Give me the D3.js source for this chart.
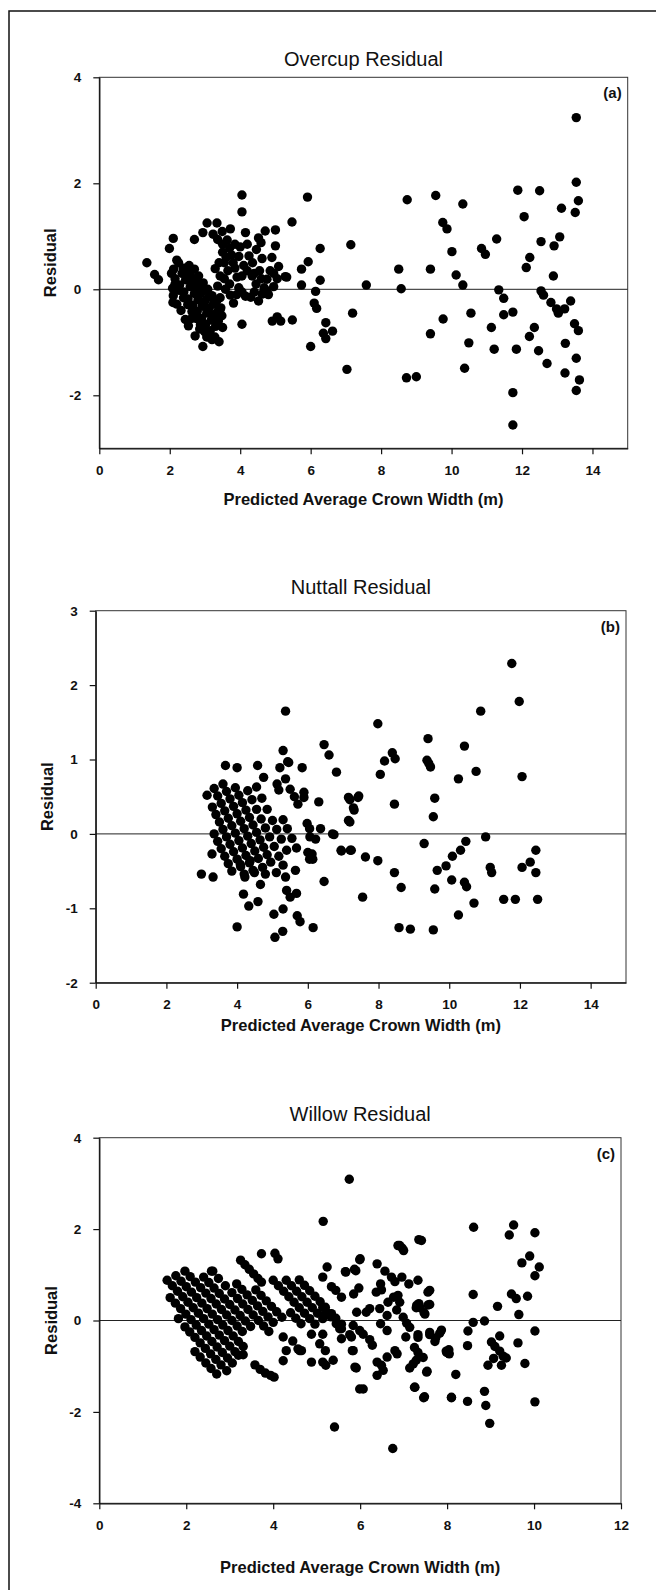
<!DOCTYPE html>
<html>
<head>
<meta charset="utf-8">
<script src="https://cdn.jsdelivr.net/npm/d3@7"></script>
<style>
  html, body { margin: 0; padding: 0; background: #fff; }
  svg { display: block; font-family: "Liberation Sans", Arial, sans-serif; }
</style>
</head>
<body>
<div id="chart"></div>
<script>
// ---- data ----
const titles = ['Overcup Residual', 'Nuttall Residual', 'Willow Residual'];
const tags = ['(a)', '(b)', '(c)'];
const xLabel = 'Predicted Average Crown Width (m)';
const yLabel = 'Residual';

const overcupXTicks = [0, 2, 4, 6, 8, 10, 12, 14];
const overcupYTicks = [-2, 0, 2, 4];
const nuttallXTicks = [0, 2, 4, 6, 8, 10, 12, 14];
const nuttallYTicks = [-2, -1, 0, 1, 2, 3];
const willowXTicks = [0, 2, 4, 6, 8, 10, 12];
const willowYTicks = [-4, -2, 0, 2, 4];

// [predicted width, residual]
const overcupPoints = [
  [1.35,0.50],[1.57,0.28],[1.68,0.18],[1.99,0.77],[2.10,0.96],[2.20,0.55],[2.11,0.38],
  [2.05,0.30],[2.15,0.20],[2.28,0.08],[2.40,-0.05],[2.52,-0.18],[2.65,-0.30],[2.78,-0.42],[2.90,-0.55],[3.02,-0.66],[3.15,-0.78],[3.28,-0.90],[3.40,-0.99],
  [2.08,0.02],[2.10,-0.12],[2.09,-0.25],[2.20,-0.28],[2.32,-0.40],[2.44,-0.57],[2.53,-0.69],[2.62,-0.55],[2.72,-0.88],[2.94,-1.08],[2.85,-0.75],
  [2.25,0.50],[2.38,0.40],[2.50,0.28],[2.62,0.16],[2.75,0.04],[2.88,-0.08],[3.00,-0.22],[3.12,-0.35],[3.25,-0.48],[3.38,-0.60],[3.50,-0.72],
  [2.55,0.45],[2.70,0.38],[2.82,0.25],[2.95,0.12],[3.08,0.00],[3.20,-0.12],[3.33,-0.22],[3.45,-0.35],
  [2.35,0.30],[2.45,0.18],[2.58,0.05],[2.70,-0.08],[2.80,-0.20],[2.92,-0.32],[3.05,-0.45],[3.18,-0.58],[3.30,-0.70],[3.05,-0.90],[3.20,-0.95],
  [2.15,0.10],[2.27,-0.02],[2.39,-0.16],[2.51,-0.29],[2.63,-0.42],[2.75,-0.55],[2.87,-0.67],[2.99,-0.80],[3.11,-0.90],
  [2.45,0.40],[2.58,0.30],[2.68,0.20],[2.82,0.10],[2.97,-0.02],[3.10,-0.15],[3.24,-0.28],[3.36,-0.42],[3.48,-0.50],
  [2.70,0.94],[2.94,1.07],[3.06,1.25],[3.34,1.25],[3.23,1.04],[3.49,1.09],[3.36,0.94],[3.63,0.93],[3.72,1.14],
  [3.29,0.39],[3.43,0.25],[3.36,0.06],[3.58,0.00],[3.72,-0.11],[3.81,-0.26],[3.43,-0.16],[3.43,-0.38],[3.91,0.23],[3.96,0.03],
  [4.05,0.25],[4.34,0.25],[4.10,0.45],[3.96,0.62],[4.25,0.63],[4.46,0.75],[4.62,0.58],[4.90,0.60],[4.59,0.88],[5.00,0.82],
  [4.52,0.97],[4.71,1.10],[5.00,1.12],[4.15,1.07],
  [4.15,-0.13],[4.52,-0.22],[4.62,-0.09],[4.68,0.03],[4.76,0.19],[4.76,-0.03],[4.95,0.05],[5.05,0.20],[5.28,0.24],[5.09,0.43],
  [3.50,0.70],[3.60,0.60],[3.70,0.78],[3.55,0.50],[3.80,0.50],[3.65,0.35],[3.85,0.40],[4.20,0.35],[4.45,0.10],[4.40,-0.05],
  [4.85,0.35],[3.50,0.85],[3.75,0.65],[4.35,0.50],[4.55,0.35],[4.05,-0.05],
  [3.40,0.50],[3.55,0.20],[3.70,0.10],[3.90,-0.10],[4.00,0.80],[4.20,0.85],[4.40,0.30],[4.60,0.20],[4.80,-0.10],[4.30,-0.15],[3.85,0.85],[4.95,0.30],
  [4.05,-0.66],[4.91,-0.60],[5.05,-0.52],[5.15,-0.60],[5.48,-0.58],
  [4.05,1.78],[4.05,1.46],[5.47,1.27],[5.91,1.74],
  [7.14,0.84],[6.27,0.77],[5.93,0.52],[5.74,0.38],[5.74,0.08],[6.27,0.17],[6.14,-0.04],[6.10,-0.26],[6.17,-0.36],[6.43,-0.63],
  [6.36,-0.83],[6.43,-0.93],[6.62,-0.79],[6.00,-1.08],[7.19,-0.45],[7.03,-1.51],[5.32,0.23],
  [13.54,3.24],[13.54,2.02],[13.60,1.67],[13.51,1.45],[11.88,1.87],[12.50,1.86],[12.06,1.37],[13.12,1.53],[13.07,0.99],[12.91,0.82],
  [12.54,0.90],[12.22,0.60],[12.12,0.41],[12.89,0.25],[11.28,0.95],[10.85,0.77],[10.96,0.66],[10.01,0.71],[10.13,0.27],[10.32,0.08],
  [10.32,1.61],[9.55,1.77],[8.74,1.69],[9.75,1.26],[9.87,1.14],[9.40,0.38],[8.50,0.38],[8.57,0.01],[7.58,0.08],
  [8.72,-1.67],[9.00,-1.65],[9.76,-0.56],[9.40,-0.84],[10.55,-0.45],[10.49,-1.01],[10.37,-1.49],[11.34,-0.01],[11.48,-0.17],[11.48,-0.48],
  [11.74,-0.43],[11.13,-0.72],[11.21,-1.13],[11.84,-1.13],[11.74,-1.95],[11.74,-2.56],[12.54,-0.03],[12.61,-0.11],[12.82,-0.25],[12.98,-0.37],
  [13.03,-0.45],[13.21,-0.37],[13.38,-0.22],[12.35,-0.72],[12.21,-0.89],[12.47,-1.16],[12.71,-1.40],[13.23,-1.02],[13.49,-0.65],[13.60,-0.78],
  [13.54,-1.30],[13.22,-1.58],[13.63,-1.71],[13.54,-1.91]
];

const nuttallPoints = [
  [2.99,-0.54],[3.32,-0.58],[3.15,0.52],[3.29,-0.27],[3.67,0.92],[4.00,0.89],[4.00,-1.25],[4.58,0.92],[4.75,0.76],[5.21,0.89],
  [5.43,0.97],[5.30,1.12],[5.37,1.65],[5.84,0.89],[6.46,1.20],[6.60,1.06],[6.81,0.83],[6.31,0.43],[7.19,0.46],[7.42,0.49],
  [7.31,0.32],[7.19,0.16],[6.74,-0.01],[6.95,-0.23],[7.23,-0.22],[6.46,-0.64],[6.15,-1.26],[6.36,0.07],[6.12,-0.27],[6.14,-0.34],
  [5.29,-1.31],[5.07,-1.39],[5.04,-1.08],[5.30,-1.01],[5.70,-1.10],[5.78,-1.18],[4.33,-0.97],[4.59,-0.91],[4.18,-0.81],[4.66,-0.68],
  [4.22,-0.58],[4.49,-0.52],[4.80,-0.54],[5.11,-0.52],[5.37,-0.58],[5.65,-0.49],[5.40,-0.76],[5.68,-0.80],[5.50,-0.85],[4.09,-0.41],[4.37,-0.36],
  [5.13,0.67],[5.18,0.59],[5.46,0.96],[5.37,0.74],[5.50,0.60],[5.62,0.50],[5.72,0.40],[5.89,0.56],[5.89,0.49],[5.98,0.14],
  [6.05,0.07],[6.22,-0.07],[6.00,-0.25],[6.05,-0.34],[6.06,-0.04],
  [3.30,0.36],[3.40,0.26],[3.50,0.16],[3.60,0.06],[3.70,-0.04],[3.80,-0.14],[3.90,-0.24],[4.00,-0.34],[4.10,-0.44],[4.20,-0.54],
  [3.35,0.61],[3.45,0.51],[3.55,0.41],[3.65,0.31],[3.75,0.21],[3.85,0.11],[3.95,0.01],[4.05,-0.09],[4.15,-0.19],[4.25,-0.29],[4.35,-0.39],[4.45,-0.49],
  [3.60,0.67],[3.70,0.57],[3.80,0.47],[3.90,0.37],[4.00,0.27],[4.10,0.17],[4.20,0.07],[4.30,-0.03],[4.40,-0.13],[4.50,-0.23],[4.60,-0.33],[4.72,-0.45],
  [3.95,0.62],[4.05,0.52],[4.15,0.42],[4.25,0.32],[4.35,0.22],[4.45,0.12],[4.55,0.02],[4.65,-0.08],[4.75,-0.18],[4.85,-0.28],[4.95,-0.38],
  [4.30,0.58],[4.42,0.46],[4.55,0.33],[4.68,0.20],[4.80,0.08],[4.92,-0.04],[5.05,-0.17],[5.18,-0.30],[5.30,-0.42],
  [4.55,0.63],[4.70,0.48],[4.85,0.33],[5.00,0.18],[5.12,0.06],[5.25,-0.07],[5.40,-0.22],
  [5.30,0.19],[5.42,0.07],[5.55,-0.06],[5.68,-0.19],
  [3.35,0.00],[3.45,-0.10],[3.55,-0.20],[3.65,-0.30],[3.75,-0.40],[3.85,-0.50],
  [11.77,2.29],[11.98,1.78],[10.89,1.65],[7.98,1.48],[9.40,1.28],[10.43,1.18],[8.39,1.09],[8.47,1.01],[8.17,0.98],[9.37,0.99],
  [9.42,0.95],[9.47,0.90],[8.05,0.80],[10.76,0.84],[10.26,0.74],[12.06,0.77],[7.15,0.49],[7.44,0.51],[7.29,0.35],[7.15,0.18],
  [8.45,0.40],[9.59,0.48],[9.55,0.23],[6.70,0.00],[11.03,-0.04],[6.94,-0.22],[7.20,-0.22],[7.63,-0.31],[7.98,-0.36],[9.29,-0.13],
  [10.47,-0.10],[10.32,-0.22],[10.09,-0.30],[9.91,-0.43],[9.66,-0.49],[11.16,-0.45],[11.20,-0.52],[12.06,-0.45],[12.29,-0.38],[12.45,-0.22],
  [12.45,-0.52],[8.45,-0.52],[8.64,-0.72],[7.55,-0.85],[9.59,-0.74],[10.07,-0.62],[10.43,-0.65],[10.49,-0.71],[10.70,-0.93],[10.26,-1.09],
  [11.54,-0.88],[11.87,-0.88],[12.50,-0.88],[8.58,-1.26],[8.90,-1.28],[9.55,-1.29]
];

const willowPoints = [
  [2.20,-0.68],[2.32,-0.80],[2.45,-0.93],[2.57,-1.05],[2.70,-1.17],
  [1.97,-0.14],[2.08,-0.25],[2.20,-0.37],[2.32,-0.49],[2.44,-0.61],[2.56,-0.73],[2.68,-0.85],[2.80,-0.97],[2.93,-1.10],
  [1.63,0.50],[1.75,0.38],[1.87,0.26],[1.99,0.14],[2.11,0.02],[2.23,-0.10],[2.35,-0.22],[2.47,-0.34],[2.59,-0.46],[2.71,-0.58],[2.83,-0.70],[2.95,-0.82],[3.06,-0.93],
  [1.56,0.88],[1.68,0.76],[1.80,0.64],[1.92,0.52],[2.04,0.40],[2.16,0.28],[2.28,0.16],[2.40,0.04],[2.52,-0.08],[2.64,-0.20],[2.76,-0.32],[2.88,-0.44],[3.00,-0.56],[3.12,-0.68],[3.20,-0.76],
  [1.76,0.98],[1.88,0.86],[2.00,0.74],[2.12,0.62],[2.24,0.50],[2.36,0.38],[2.48,0.26],[2.60,0.14],[2.72,0.02],[2.84,-0.10],[2.96,-0.22],[3.08,-0.34],[3.20,-0.46],[3.31,-0.57],
  [1.97,1.08],[2.09,0.96],[2.21,0.84],[2.33,0.72],[2.45,0.60],[2.57,0.48],[2.69,0.36],[2.81,0.24],[2.93,0.12],[3.05,0.00],[3.17,-0.12],[3.29,-0.24],
  [2.40,0.95],[2.52,0.83],[2.64,0.71],[2.76,0.59],[2.88,0.47],[3.00,0.35],[3.12,0.23],[3.24,0.11],[3.36,-0.01],[3.48,-0.13],
  [2.58,1.08],[2.74,0.92],[2.90,0.76],[3.05,0.61],[3.18,0.48],[3.30,0.36],[3.42,0.24],[3.54,0.12],[3.66,0.00],[3.78,-0.12],[3.90,-0.24],
  [3.16,0.80],[3.28,0.68],[3.40,0.56],[3.52,0.44],[3.64,0.32],[3.76,0.20],[3.88,0.08],[4.00,-0.04],
  [3.25,1.32],[3.35,1.22],[3.45,1.12],[3.55,1.02],[3.65,0.92],[3.73,0.84],
  [3.60,0.67],[3.72,0.55],[3.84,0.43],[3.96,0.31],[4.08,0.19],[4.20,0.07],
  [3.58,-0.97],[3.70,-1.07],[3.82,-1.15],[3.94,-1.20],[4.02,-1.24],[3.31,-0.75],
  [1.82,0.04],[2.61,1.08],[3.73,1.46],[4.04,1.47],[4.11,1.35],[4.23,-0.88],[4.30,-0.66],[4.57,-0.62],[4.23,-0.36],[4.45,-0.45],[4.61,-0.66],
  [4.00,0.88],[4.12,0.76],[4.24,0.64],[4.36,0.52],[4.48,0.40],[4.60,0.28],[4.72,0.16],[4.84,0.04],[4.96,-0.08],
  [4.30,0.88],[4.42,0.76],[4.54,0.64],[4.66,0.52],[4.78,0.40],[4.90,0.28],[5.02,0.16],[5.14,0.04],
  [4.60,0.89],[4.72,0.77],[4.84,0.65],[4.96,0.53],[5.08,0.41],[5.20,0.29],[5.34,0.15],[5.44,0.05],[5.57,-0.08],
  [4.40,0.17],[4.52,0.05],[4.64,-0.07],
  [5.14,0.29],[5.24,0.17],[5.57,-0.18],[4.88,-0.30],[5.14,-0.30],[5.07,-0.51],[5.20,-0.66],[5.38,-0.87],[4.88,-0.91],[5.14,-0.91],
  [4.65,-0.66],[5.21,-0.98],[5.88,-1.02],[5.84,-0.66],[5.99,-1.50],
  [5.75,3.09],[5.15,2.17],[6.91,1.64],[7.00,1.53],[7.41,1.75],[5.99,1.33],[5.24,1.17],[5.14,0.95],[5.67,1.06],[5.90,1.09],[6.39,1.24],
  [6.57,1.08],[6.72,0.95],[6.80,0.85],[6.96,0.95],[7.12,0.80],[7.33,0.88],[7.56,0.62],
  [5.34,0.74],[5.44,0.66],[5.57,0.51],[5.85,0.58],[5.97,0.71],[6.37,0.62],[6.47,0.80],[6.49,0.67],
  [6.64,0.40],[6.77,0.51],[6.87,0.55],[6.91,0.40],[7.30,0.33],[7.38,0.28],[7.49,0.14],[7.60,0.35],
  [6.84,0.23],[6.99,0.07],[7.07,-0.06],[7.14,-0.15],[6.45,0.26],[6.62,0.11],[6.22,0.26],[6.14,0.18],[5.92,0.18],
  [5.84,-0.11],[5.99,-0.22],[6.07,-0.30],[5.57,-0.40],[5.76,-0.31],[5.80,-0.36],[6.22,-0.42],[6.28,-0.54],[6.62,-0.22],[6.47,-0.07],
  [7.05,-0.36],[7.33,-0.37],[7.60,-0.31],[7.72,-0.46],[7.83,-0.28],[7.25,-0.59],[7.33,-0.70],[7.45,-0.81],[7.99,-0.70],[8.05,-0.73],
  [6.80,-0.66],[6.85,-0.73],[6.62,-0.80],[6.39,-0.91],[6.49,-0.98],[5.82,-0.66],[5.91,-1.04],[6.39,-1.20],[6.53,-1.09],
  [7.14,-1.04],[7.22,-0.95],[7.29,-0.87],[7.53,-1.13],[6.07,-1.50],[7.26,-1.46],[7.46,-1.69],[8.10,-1.69],[8.20,-1.18],
  [5.22,0.15],[5.33,0.08],[5.45,-0.07],[5.53,-0.18],
  [8.61,2.04],[9.53,2.09],[9.43,1.87],[10.02,1.92],[9.72,1.26],[9.90,1.41],[10.12,1.17],[10.02,0.98],[8.60,0.57],[9.48,0.58],
  [9.59,0.48],[9.85,0.53],[9.16,0.31],[9.65,0.13],[8.60,-0.04],[8.86,-0.01],[8.48,-0.23],[8.47,-0.55],[10.02,-0.23],[9.63,-0.49],
  [9.02,-0.47],[9.10,-0.57],[9.21,-0.67],[9.29,-0.78],[9.36,-0.82],[9.21,-0.34],[8.94,-0.98],[9.07,-0.83],[9.25,-0.98],[9.79,-0.94],
  [8.86,-1.55],[8.89,-1.86],[8.98,-2.25],[8.47,-1.77],[8.10,-1.68],[10.02,-1.78],[7.98,-0.67],[8.04,-0.64],[7.54,-1.11],[7.25,-1.46],
  [7.48,-1.67],[6.75,-2.80],[5.41,-2.33],
  [7.35,1.77],[6.87,1.64],[6.97,1.58],[6.00,1.35],[5.87,1.12],[5.66,1.07],[7.60,0.66],[7.56,0.34],[7.35,0.37],[7.29,0.28],
  [7.47,0.17],[7.60,-0.26],[7.74,-0.38],[7.87,-0.21],[7.33,-0.31]
];

// ---- layout ----
const W = 656, H = 1590;
const panels = [
  { points: overcupPoints, xTicks: overcupXTicks, yTicks: overcupYTicks, xDomain: [0, 15], yDomain: [-3, 4],
    left: 99.3, right: 627.7, top: 77.3, bottom: 448.3, yLabelX: 50, xLabelY: 505, titleY: 66 },
  { points: nuttallPoints, xTicks: nuttallXTicks, yTicks: nuttallYTicks, xDomain: [0, 15], yDomain: [-2, 3],
    left: 95.7, right: 626, top: 610.7, bottom: 982.7, yLabelX: 47, xLabelY: 1031, titleY: 594 },
  { points: willowPoints, xTicks: willowXTicks, yTicks: willowYTicks, xDomain: [0, 12], yDomain: [-4, 4],
    left: 99.3, right: 621, top: 1137.7, bottom: 1503.3, yLabelX: 51, xLabelY: 1573, titleY: 1121 }
];

const svg = d3.select('#chart').append('svg')
  .attr('width', W)
  .attr('height', H);

svg.append('rect').attr('width', W).attr('height', H).attr('fill', '#fff');

// outer frame of the figure (right and bottom fall outside the picture)
svg.append('rect')
  .attr('x', 9).attr('y', 11)
  .attr('width', W + 20).attr('height', H + 20)
  .attr('fill', 'none')
  .attr('stroke', '#111')
  .attr('stroke-width', 1.5);

panels.forEach((p, i) => {
  const x = d3.scaleLinear().domain(p.xDomain).range([p.left, p.right]);
  const y = d3.scaleLinear().domain(p.yDomain).range([p.bottom, p.top]);
  const g = svg.append('g');

  // plot box
  g.append('rect')
    .attr('x', p.left).attr('y', p.top)
    .attr('width', p.right - p.left).attr('height', p.bottom - p.top)
    .attr('fill', 'none')
    .attr('stroke', '#333')
    .attr('stroke-width', 1);

  // zero reference line
  g.append('line')
    .attr('x1', x(p.xDomain[0])).attr('x2', x(p.xDomain[1]))
    .attr('y1', y(0)).attr('y2', y(0))
    .attr('stroke', '#222')
    .attr('stroke-width', 1);

  g.append('g').selectAll('circle')
    .data(p.points)
    .join('circle')
    .attr('cx', d => x(d[0]))
    .attr('cy', d => y(d[1]))
    .attr('r', 4.7)
    .attr('fill', '#000');

  const xAxis = g.append('g')
    .attr('transform', `translate(0,${p.bottom})`)
    .call(d3.axisBottom(x).tickValues(p.xTicks).tickFormat(d => String(d))
      .tickSize(6).tickSizeOuter(0).tickPadding(11));

  const yAxis = g.append('g')
    .attr('transform', `translate(${p.left},0)`)
    .call(d3.axisLeft(y).tickValues(p.yTicks).tickFormat(d => String(d))
      .tickSize(6).tickSizeOuter(0).tickPadding(12));

  [xAxis, yAxis].forEach(a => {
    a.select('.domain').attr('stroke', '#111').attr('stroke-width', 1.3);
    a.selectAll('.tick line').attr('stroke', '#111').attr('stroke-width', 1.2);
    a.selectAll('.tick text')
      .attr('fill', '#111')
      .attr('font-size', 13.5)
      .attr('font-weight', 'bold')
      .attr('font-family', '"Liberation Sans", Arial, sans-serif');
  });

  const cx = (p.left + p.right) / 2;

  svg.append('text')
    .attr('x', cx).attr('y', p.titleY)
    .attr('text-anchor', 'middle')
    .attr('font-size', 20)
    .attr('fill', '#111')
    .text(titles[i]);

  svg.append('text')
    .attr('x', p.right - 6).attr('y', p.top + 21)
    .attr('text-anchor', 'end')
    .attr('font-size', 15)
    .attr('font-weight', 'bold')
    .attr('fill', '#111')
    .text(tags[i]);

  svg.append('text')
    .attr('x', cx).attr('y', p.xLabelY)
    .attr('text-anchor', 'middle')
    .attr('font-size', 16.5)
    .attr('font-weight', 'bold')
    .attr('fill', '#111')
    .text(xLabel);

  svg.append('text')
    .attr('transform', `translate(${p.yLabelX + 6},${(p.top + p.bottom) / 2}) rotate(-90)`)
    .attr('text-anchor', 'middle')
    .attr('font-size', 16.5)
    .attr('font-weight', 'bold')
    .attr('fill', '#111')
    .text(yLabel);
});
</script>
</body>
</html>
